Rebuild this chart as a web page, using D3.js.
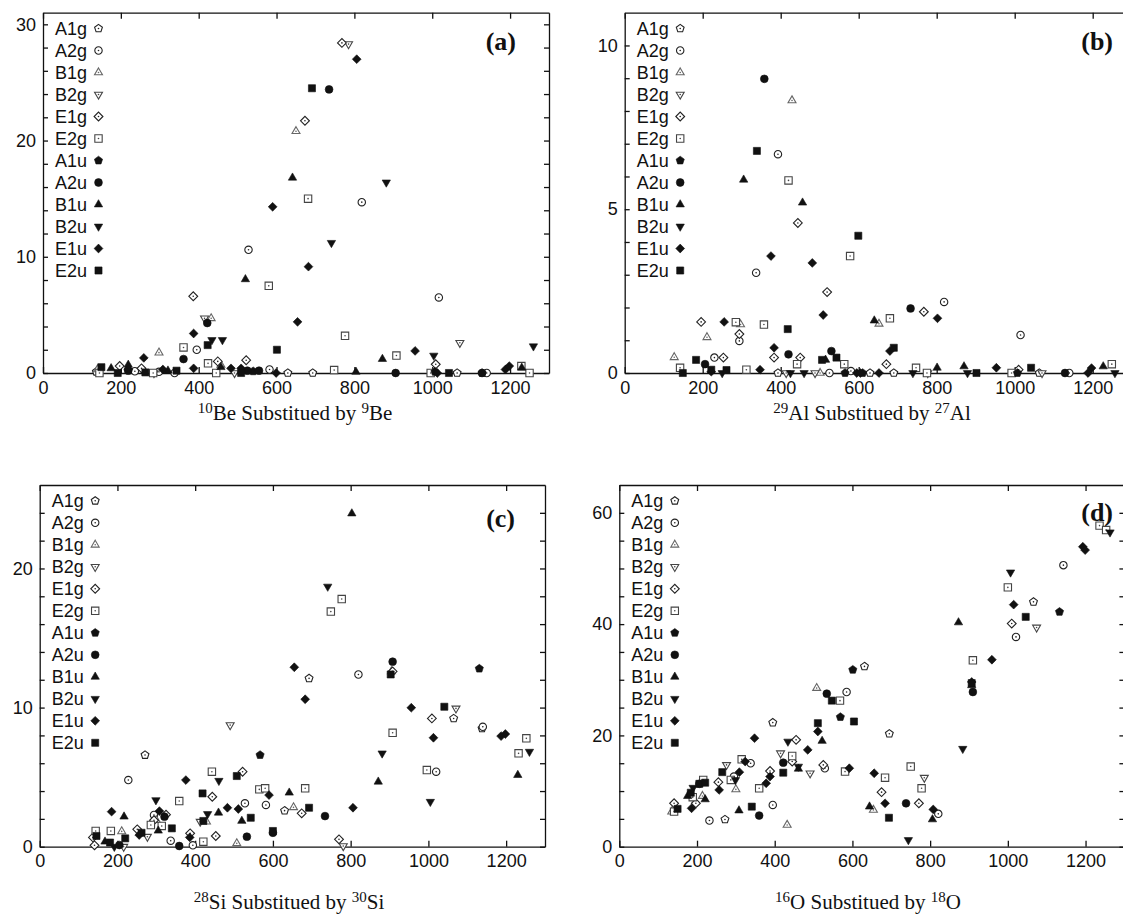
<!DOCTYPE html>
<html>
<head>
<meta charset="utf-8">
<script src="https://cdn.jsdelivr.net/npm/d3@7"></script>
<style>
  body { margin: 0; background: #fff; }
  svg { display: block; }
  .axis text { font-family: "Liberation Sans", Arial, sans-serif; font-size: 18px; fill: #111; }
  .axis path, .axis line { stroke: #111; stroke-width: 1.3; }
  .legend text { font-family: "Liberation Sans", Arial, sans-serif; font-size: 18px; fill: #111; }
  .ttl { font-family: "Liberation Serif", "Times New Roman", serif; font-size: 21px; fill: #111; }
  .tag { font-family: "Liberation Serif", "Times New Roman", serif; font-size: 26px; font-weight: bold; fill: #111; }
</style>
</head>
<body>
<div id="chart"></div>
<script>
var width = 1123,
    height = 915;

// mode names, in legend order
var series = ["A1g","A2g","B1g","B2g","E1g","E2g","A1u","A2u","B1u","B2u","E1u","E2u"];
var xTicks = [0,200,400,600,800,1000,1200];

// [mode, frequency, value]
var beData = [
  ["A1g",137,0.1],["A1g",629,0],["A1g",693,0],["A1g",1064,0],
  ["A2g",236,0.15],["A2g",298,0.1],["A2g",338,0],["A2g",395,2.0],["A2g",528,10.6],["A2g",582,0.3],["A2g",819,14.7],["A2g",1017,6.5],["A2g",1140,0],
  ["B1g",140,0.3],["B1g",298,1.75],["B1g",432,4.7],["B1g",457,0.7],["B1g",650,20.8],
  ["B2g",285,0],["B2g",415,4.7],["B2g",492,0],["B2g",785,28.3],["B2g",1071,2.6],
  ["E1g",197,0.6],["E1g",253,0.4],["E1g",386,6.6],["E1g",449,1.0],["E1g",522,1.1],["E1g",673,21.7],["E1g",768,28.4],["E1g",1009,0.75],
  ["E2g",145,0],["E2g",283,0],["E2g",361,2.2],["E2g",424,0.83],["E2g",445,0],["E2g",580,7.5],["E2g",681,15.0],["E2g",748,0.25],["E2g",776,3.2],["E2g",908,1.5],["E2g",996,0],["E2g",1229,0.6],["E2g",1250,0],
  ["A1u",219,0.25],["A1u",540,0.15],["A1u",1007,0.1],["A1u",1128,0],
  ["A2u",219,0.2],["A2u",361,1.2],["A2u",422,4.3],["A2u",525,0.2],["A2u",555,0.2],["A2u",735,24.4],["A2u",906,0],["A2u",1128,0],
  ["B1u",175,0.4],["B1u",219,0.7],["B1u",321,0.2],["B1u",457,0.5],["B1u",520,8.06],["B1u",641,16.8],["B1u",804,0.1],["B1u",872,1.2],["B1u",1230,0.45],
  ["B2u",434,2.84],["B2u",461,2.84],["B2u",741,11.2],["B2u",882,16.4],["B2u",1004,1.5],["B2u",1260,2.3],
  ["E1u",219,0.3],["E1u",259,1.3],["E1u",308,0.3],["E1u",387,3.4],["E1u",387,0.4],["E1u",483,0.4],["E1u",509,0.4],["E1u",590,14.3],["E1u",599,0],["E1u",654,4.4],["E1u",682,9.15],["E1u",806,27.0],["E1u",956,1.9],["E1u",1013,0],["E1u",1188,0.3],["E1u",1198,0.6],
  ["E2u",150,0.5],["E2u",192,0],["E2u",263,0.05],["E2u",343,0.2],["E2u",423,2.4],["E2u",509,0],["E2u",601,2.0],["E2u",691,24.5],["E2u",1043,0]
];

var alData = [
  ["A1g",393,0],["A1g",629,0],["A1g",690,0],["A1g",1063,0],
  ["A2g",230,0.47],["A2g",294,0.98],["A2g",337,3.06],["A2g",393,6.68],["A2g",525,0],["A2g",580,0.06],["A2g",819,2.17],["A2g",1015,1.16],["A2g",1140,0],
  ["B1g",127,0.48],["B1g",211,1.09],["B1g",297,1.48],["B1g",429,8.32],["B1g",501,0],["B1g",652,1.5],
  ["B2g",414,0],["B2g",488,0],["B2g",777,0],["B2g",1070,0],
  ["E1g",196,1.56],["E1g",253,0.47],["E1g",294,1.19],["E1g",383,0.47],["E1g",444,4.58],["E1g",450,0.47],["E1g",519,2.47],["E1g",671,0.27],["E1g",767,1.87],["E1g",1010,0.1],
  ["E2g",142,0.16],["E2g",285,1.55],["E2g",312,0.1],["E2g",357,1.48],["E2g",420,5.88],["E2g",442,0.27],["E2g",563,0.27],["E2g",578,3.57],["E2g",680,1.67],["E2g",747,0.16],["E2g",775,0],["E2g",992,0],["E2g",1249,0.27],
  ["A1u",565,0],["A1u",610,0],["A1u",1007,0],
  ["A2u",206,0.27],["A2u",358,8.98],["A2u",420,0.57],["A2u",530,0.67],["A2u",733,1.97],["A2u",1129,0],
  ["B1u",305,5.9],["B1u",456,5.2],["B1u",515,0.4],["B1u",640,1.6],["B1u",801,0.16],["B1u",870,0.2],["B1u",1227,0.2],
  ["B2u",250,0],["B2u",425,0],["B2u",460,0],["B2u",739,0],["B2u",879,0],["B2u",1257,0],
  ["E1u",222,0.04],["E1u",255,1.56],["E1u",347,0.1],["E1u",375,3.57],["E1u",383,0.77],["E1u",481,3.36],["E1u",509,1.77],["E1u",595,0],["E1u",604,0],["E1u",652,0],["E1u",680,0.67],["E1u",802,1.67],["E1u",953,0.16],["E1u",1188,0],["E1u",1197,0.15],
  ["E2u",149,0],["E2u",183,0.4],["E2u",222,0.1],["E2u",261,0.09],["E2u",339,6.78],["E2u",418,1.34],["E2u",506,0.4],["E2u",543,0.47],["E2u",599,4.19],["E2u",690,0.77],["E2u",902,0],["E2u",1042,0.16]
];

var siData = [
  ["A1g",271,6.59],["A1g",630,2.59],["A1g",693,12.1],["A1g",1065,9.22],["A1g",1138,8.5],
  ["A2g",228,4.79],["A2g",294,2.28],["A2g",337,0.43],["A2g",394,0.1],["A2g",528,3.12],["A2g",582,3.0],["A2g",820,12.38],["A2g",1020,5.39],["A2g",1140,8.62],
  ["B1g",211,1.1],["B1g",300,1.9],["B1g",429,1.8],["B1g",507,0.24],["B1g",653,2.83],["B1g",905,12.6],
  ["B2g",216,0],["B2g",277,0.72],["B2g",413,1.8],["B2g",490,8.74],["B2g",781,0.05],["B2g",1071,9.94],
  ["E1g",137,0.67],["E1g",141,0.1],["E1g",251,1.25],["E1g",294,1.9],["E1g",325,2.3],["E1g",387,0.96],["E1g",444,3.59],["E1g",453,0.77],["E1g",522,5.39],["E1g",674,2.4],["E1g",770,0.53],["E1g",908,12.6],["E1g",1009,9.22],
  ["E2g",144,1.13],["E2g",183,1.13],["E2g",286,1.56],["E2g",314,1.49],["E2g",359,3.28],["E2g",421,0.36],["E2g",443,5.39],["E2g",565,4.12],["E2g",580,4.2],["E2g",683,4.2],["E2g",749,16.9],["E2g",777,17.8],["E2g",908,8.19],["E2g",996,5.51],["E2g",1232,6.71],["E2g",1252,7.79],
  ["A1u",567,6.59],["A1u",1131,12.8],
  ["A2u",205,0.12],["A2u",321,2.16],["A2u",359,0.05],["A2u",533,0.72],["A2u",600,1.0],["A2u",734,2.2],["A2u",908,13.3],
  ["B1u",168,0.36],["B1u",217,2.16],["B1u",305,1.15],["B1u",460,2.44],["B1u",520,1.85],["B1u",642,3.88],["B1u",803,23.95],["B1u",871,4.67],["B1u",1230,5.15],
  ["B2u",192,0],["B2u",299,3.35],["B2u",432,2.35],["B2u",461,4.74],["B2u",741,18.7],["B2u",881,6.71],["B2u",1005,3.23],["B2u",1260,6.83],
  ["E1u",185,2.52],["E1u",256,0.84],["E1u",308,2.56],["E1u",376,4.79],["E1u",386,0.67],["E1u",483,2.8],["E1u",511,2.71],["E1u",590,3.71],["E1u",655,12.9],["E1u",683,10.6],["E1u",806,2.8],["E1u",956,9.99],["E1u",1013,7.83],["E1u",1187,7.95],["E1u",1198,8.1],
  ["E2u",146,0.77],["E2u",181,0.3],["E2u",220,0.6],["E2u",262,1.0],["E2u",340,1.32],["E2u",419,3.83],["E2u",421,1.85],["E2u",507,5.08],["E2u",543,2.08],["E2u",600,1.13],["E2u",693,2.8],["E2u",903,12.38],["E2u",1041,10.06]
];

var oData = [
  ["A1g",272,4.9],["A1g",395,22.3],["A1g",631,32.4],["A1g",695,20.3],["A1g",1066,44.0],
  ["A2g",232,4.7],["A2g",295,12.6],["A2g",338,15.0],["A2g",395,7.5],["A2g",529,14.1],["A2g",585,27.8],["A2g",821,5.9],["A2g",1021,37.7],["A2g",1143,50.6],
  ["B1g",135,6.3],["B1g",214,9.1],["B1g",300,10.3],["B1g",432,3.9],["B1g",508,28.5],["B1g",654,6.6],
  ["B2g",276,14.7],["B2g",415,16.8],["B2g",491,13.2],["B2g",785,12.4],["B2g",1074,39.4],
  ["E1g",141,7.8],["E1g",197,7.8],["E1g",255,11.6],["E1g",388,13.6],["E1g",445,15.3],["E1g",455,19.2],["E1g",525,14.7],["E1g",675,9.8],["E1g",771,7.8],["E1g",1010,40.1],
  ["E2g",141,6.3],["E2g",189,8.9],["E2g",216,12.0],["E2g",287,12.0],["E2g",315,15.7],["E2g",360,10.5],["E2g",445,16.3],["E2g",568,26.25],["E2g",581,13.5],["E2g",684,12.4],["E2g",750,14.4],["E2g",778,10.5],["E2g",910,33.5],["E2g",1000,46.6],["E2g",1236,57.7],["E2g",1253,56.9],
  ["A1u",569,23.3],["A1u",601,31.8],["A1u",1133,42.2],
  ["A2u",206,11.3],["A2u",360,5.6],["A2u",422,15.1],["A2u",534,27.5],["A2u",738,7.8],["A2u",910,27.8],
  ["B1u",176,9.1],["B1u",221,8.5],["B1u",308,6.5],["B1u",461,14.0],["B1u",522,19.0],["B1u",644,7.2],["B1u",806,4.9],["B1u",873,40.3],["B1u",907,29.0],
  ["B2u",190,10.6],["B2u",299,12.0],["B2u",434,18.9],["B2u",461,14.4],["B2u",744,1.2],["B2u",884,17.6],["B2u",1007,49.3],["B2u",1263,56.5],
  ["E1u",186,6.9],["E1u",257,10.2],["E1u",309,13.4],["E1u",324,15.3],["E1u",348,19.5],["E1u",378,11.4],["E1u",388,12.6],["E1u",485,17.4],["E1u",511,20.7],["E1u",592,14.1],["E1u",656,13.2],["E1u",684,7.8],["E1u",808,6.7],["E1u",907,29.6],["E1u",959,33.6],["E1u",1015,43.5],["E1u",1193,53.9],["E1u",1199,53.3],
  ["E2u",150,6.8],["E2u",184,9.7],["E2u",206,11.3],["E2u",221,11.5],["E2u",265,13.4],["E2u",341,7.2],["E2u",422,13.3],["E2u",511,22.2],["E2u",547,26.25],["E2u",604,22.5],["E2u",694,5.2],["E2u",907,29.4],["E2u",1046,41.3]
];

var panels = [
  {tag:"(a)", data:beData, left:43,    right:549,    top:12.7, bottom:373,   ymax:31, step:2, labels:[0,10,20,30],
   title:["10","Be Substitued by ","9","Be"], tx:295, ty:420, tagX:516, tagY:50},
  {tag:"(b)", data:alData, left:624.7, right:1131.7, top:12.7, bottom:373,   ymax:11, step:1, labels:[0,5,10],
   title:["29","Al Substitued by ","27","Al"], tx:872, ty:420, tagX:1113, tagY:50},
  {tag:"(c)", data:siData, left:39.7,  right:545,    top:485,  bottom:846.7, ymax:26, step:2, labels:[0,10,20],
   title:["28","Si Substitued by ","30","Si"], tx:289, ty:909, tagX:515, tagY:527},
  {tag:"(d)", data:oData,  left:619.3, right:1124.4, top:485,  bottom:846.7, ymax:65, step:5, labels:[0,20,40,60],
   title:["16","O Substitued by ","18","O"], tx:868, ty:909, tagX:1113, tagY:521}
];

var shapes = ["pent","circle","tri","dtri","diamond","square"];
var openColor = {"B1g":"#666","B2g":"#444","E2g":"#444"};

function poly(n, r, rot) {
  var p = [];
  for (var k = 0; k < n; k++) {
    var a = rot + k * 2 * Math.PI / n;
    p.push([r * Math.cos(a), r * Math.sin(a)]);
  }
  return "M" + p.map(function(q){ return q[0].toFixed(2) + "," + q[1].toFixed(2); }).join("L") + "Z";
}

function markerPath(name) {
  var i = series.indexOf(name), kind = shapes[i % 6];
  var filled = i >= 6;
  if (kind == "circle") {
    var r = filled ? 3.9 : 3.7, p = d3.path();
    p.arc(0, 0, r, 0, 2 * Math.PI);
    return p.toString();
  }
  if (kind == "pent") return poly(5, filled ? 4.3 : 4.1, -Math.PI / 2);
  if (kind == "tri") return poly(3, filled ? 4.8 : 4.6, -Math.PI / 2);
  if (kind == "dtri") return poly(3, filled ? 4.8 : 4.6, Math.PI / 2);
  if (kind == "diamond") return poly(4, 4.4, 0);
  return poly(4, filled ? 5.0 : 5.2, Math.PI / 4);
}

function drawMarker(g, name, cx, cy) {
  var i = series.indexOf(name), filled = i >= 6;
  var col = filled ? "#111" : (openColor[name] || "#222");
  var m = g.append("g").attr("transform", "translate(" + cx + "," + cy + ")");
  m.append("path")
    .attr("d", markerPath(name))
    .attr("fill", filled ? "#111" : "#fff")
    .attr("stroke", col)
    .attr("stroke-width", filled ? 0.6 : 1.1);
  if (!filled) {
    m.append("circle").attr("r", 0.8).attr("fill", col);
  }
}

var svg = d3.select("#chart")
  .append("svg")
  .attr("width", width)
  .attr("height", height);

panels.forEach(function(p) {
  var x = d3.scaleLinear().domain([0, 1300]).range([p.left, p.right]);
  var y = d3.scaleLinear().domain([0, p.ymax]).range([p.bottom, p.top]);
  var yTicks = d3.range(0, p.ymax, p.step);

  var g = svg.append("g");

  // frame and ticks (inward, mirrored like gnuplot)
  g.append("g").attr("class", "axis")
    .attr("transform", "translate(0," + p.bottom + ")")
    .call(d3.axisBottom(x).tickValues(xTicks).tickSizeInner(-6).tickSizeOuter(0).tickPadding(8)
      .tickFormat(d3.format("d")));
  g.append("g").attr("class", "axis")
    .attr("transform", "translate(0," + p.top + ")")
    .call(d3.axisTop(x).tickValues(xTicks).tickSizeInner(-6).tickSizeOuter(0).tickFormat(""));
  g.append("g").attr("class", "axis")
    .attr("transform", "translate(" + p.left + ",0)")
    .call(d3.axisLeft(y).tickValues(yTicks).tickSizeInner(-5).tickSizeOuter(0).tickPadding(7)
      .tickFormat(function(d){ return p.labels.indexOf(d) >= 0 ? d : ""; }));
  g.append("g").attr("class", "axis")
    .attr("transform", "translate(" + p.right + ",0)")
    .call(d3.axisRight(y).tickValues(yTicks).tickSizeInner(-5).tickSizeOuter(0).tickFormat(""));
  g.selectAll(".axis .domain").attr("stroke-width", 1.5);

  // points
  var pts = g.append("g");
  p.data.forEach(function(d) {
    drawMarker(pts, d[0], x(d[1]), y(d[2]));
  });

  // legend
  var lg = g.append("g").attr("class", "legend");
  series.forEach(function(s, i) {
    var ly = p.top + 15.8 + i * 22;
    lg.append("text").attr("x", p.left + 12).attr("y", ly).attr("dy", "0.35em").text(s);
    drawMarker(lg, s, p.left + 55.5, ly);
  });

  // panel tag
  g.append("text").attr("class", "tag")
    .attr("x", p.tagX).attr("y", p.tagY).attr("text-anchor", "end").text(p.tag);

  // axis title with isotope superscripts
  var t = g.append("text").attr("class", "ttl").attr("x", p.tx).attr("y", p.ty).attr("text-anchor", "middle");
  t.append("tspan").attr("font-size", "15px").attr("dy", "-7").text(p.title[0]);
  t.append("tspan").attr("dy", "7").text(p.title[1]);
  t.append("tspan").attr("font-size", "15px").attr("dy", "-7").text(p.title[2]);
  t.append("tspan").attr("dy", "7").text(p.title[3]);
});
</script>
</body>
</html>
